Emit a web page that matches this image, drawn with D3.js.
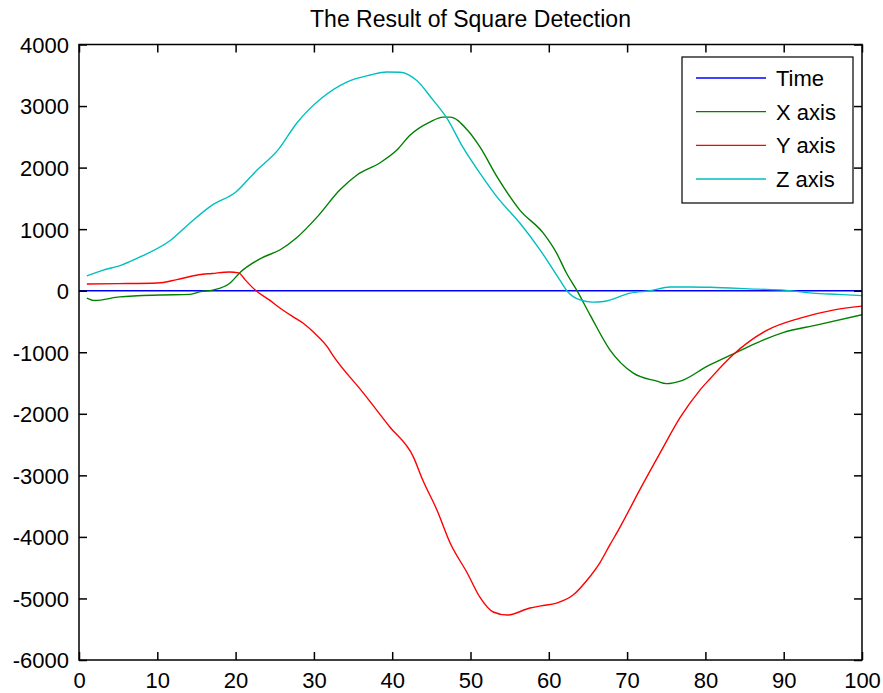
<!DOCTYPE html>
<html>
<head>
<meta charset="utf-8">
<script src="https://cdn.jsdelivr.net/npm/d3@7"></script>
<style>
  html, body { margin: 0; padding: 0; background: #fff; }
  svg { display: block; }
  text { font-family: "Liberation Sans", Arial, sans-serif; fill: #000; }
</style>
</head>
<body>
<svg id="chart" width="883" height="693"></svg>
<script>
// ---- data ----
const seriesNames = ["Time", "X axis", "Y axis", "Z axis"];
const seriesColors = ["#0000ff", "#008000", "#ff0000", "#00bfbf"];

const timeSeries = [[0, 0], [100, 0]];

const xAxisSeries = [
  [1, -120], [2, -160], [5.2, -100], [10.3, -70], [14.2, -60], [15.5, -15], [17.1, 10],
  [19.3, 125], [20.6, 300], [23.3, 530], [25.7, 665], [27.8, 860], [30.4, 1195],
  [33.3, 1635], [35.5, 1880], [38.4, 2075], [40.6, 2285], [42.3, 2530], [44.8, 2740],
  [46.5, 2820], [47.4, 2820], [49.6, 2610], [51.2, 2335], [53.4, 1850], [56.3, 1310],
  [59.3, 935], [61, 610], [62.2, 300], [63.6, 0], [65.3, -400], [67.8, -960],
  [70.8, -1340], [73.8, -1470], [75, -1510], [77, -1460], [80.2, -1230], [83.5, -1030],
  [86.5, -850], [89.9, -680], [94.3, -555], [100, -390]
];

const yAxisSeries = [
  [1, 110], [5, 115], [10, 125], [12.5, 180], [15.3, 260], [17, 280], [19.2, 305],
  [20.4, 290], [21.2, 180], [22.5, 10], [24.3, -150], [25.7, -285], [27.3, -420],
  [28.6, -525], [30, -680], [31.7, -910], [32.4, -1045], [36.3, -1660], [39.7, -2215],
  [42.7, -2700], [43.9, -3075], [45.7, -3560], [47.4, -4100], [49.6, -4590],
  [51.2, -4980], [52.9, -5220], [54.7, -5270], [57.6, -5155], [59, -5120], [61, -5075],
  [63.1, -4945], [64.9, -4700], [66.5, -4425], [67.8, -4130], [69.1, -3840],
  [71.6, -3240], [74.2, -2640], [76.8, -2055], [79.3, -1615], [80.6, -1430],
  [83.5, -1045], [87.9, -640], [92.1, -445], [96.3, -315], [100, -250]
];

const zAxisSeries = [
  [1, 240], [3, 330], [5.5, 420], [8, 560], [11.7, 820], [14, 1080], [17, 1390],
  [20, 1600], [22.5, 1930], [25.5, 2300], [27.8, 2720], [31, 3130], [34.2, 3390],
  [37.2, 3505], [39.3, 3553], [41, 3550], [43.1, 3420], [45.2, 3100], [47, 2800],
  [49, 2335], [51.2, 1910], [53.4, 1520], [56.3, 1100], [58.9, 660], [61.4, 175],
  [62.3, 0], [64, -150], [65.6, -185], [67, -175], [70.4, -40], [72.9, 0], [75.5, 60],
  [78, 60], [80.6, 55], [86.6, 25], [90, 10], [93.7, -40], [97, -60], [100, -80]
];

const xTicks = [0, 10, 20, 30, 40, 50, 60, 70, 80, 90, 100];
const yTicks = [-6000, -5000, -4000, -3000, -2000, -1000, 0, 1000, 2000, 3000, 4000];
const titleText = "The Result of Square Detection";

// ---- layout ----
const svg = d3.select("#chart");
const L = 79, R = 862, T = 44.5, B = 660;

const x = d3.scaleLinear().domain([0, 100]).range([L, R]);
const y = d3.scaleLinear().domain([-6000, 4000]).range([B, T]);
const fmt = d => String(d);

svg.append("rect").attr("width", 883).attr("height", 693).attr("fill", "#fff");

// series
const line = d3.line().x(d => x(d[0])).y(d => y(d[1])).curve(d3.curveMonotoneX);
const allSeries = [timeSeries, xAxisSeries, yAxisSeries, zAxisSeries];
const plot = svg.append("g");
plot.append("clipPath").attr("id", "clip").append("rect")
  .attr("x", L).attr("y", T).attr("width", R - L).attr("height", B - T);
const lines = plot.append("g").attr("clip-path", "url(#clip)");
allSeries.forEach((s, i) => {
  lines.append("path")
    .datum(s)
    .attr("d", line)
    .attr("fill", "none")
    .attr("stroke", seriesColors[i])
    .attr("stroke-width", 1.4);
});

// axes (ticks inside, box on all sides)
const fs = "22px";
const gB = svg.append("g").attr("transform", `translate(0,${B})`)
  .call(d3.axisBottom(x).tickValues(xTicks).tickSize(-8).tickFormat(fmt));
const gT = svg.append("g").attr("transform", `translate(0,${T})`)
  .call(d3.axisTop(x).tickValues(xTicks).tickSize(-8).tickFormat(""));
const gL = svg.append("g").attr("transform", `translate(${L},0)`)
  .call(d3.axisLeft(y).tickValues(yTicks).tickSize(-8).tickPadding(10).tickFormat(fmt));
const gR = svg.append("g").attr("transform", `translate(${R},0)`)
  .call(d3.axisRight(y).tickValues(yTicks).tickSize(-8).tickFormat(""));

[gB, gT, gL, gR].forEach(g => {
  g.select(".domain").remove();
  g.selectAll(".tick line").attr("stroke", "#000").attr("stroke-width", 1.5);
  g.selectAll("text").attr("font-size", fs).attr("font-family", "Liberation Sans, Arial, sans-serif").attr("fill", "#000");
});
gB.selectAll("text").attr("dy", null).attr("y", 28);
gL.selectAll("text").attr("dy", "0.36em");

// frame
svg.append("rect")
  .attr("x", L).attr("y", T).attr("width", R - L).attr("height", B - T)
  .attr("fill", "none").attr("stroke", "#000").attr("stroke-width", 1.5);

// title
svg.append("text")
  .attr("x", (L + R) / 2).attr("y", 27)
  .attr("text-anchor", "middle")
  .attr("font-size", "23px")
  .text(titleText);

// legend
const lg = svg.append("g");
lg.append("rect")
  .attr("x", 682).attr("y", 57).attr("width", 171).attr("height", 146)
  .attr("fill", "#fff").attr("stroke", "#000").attr("stroke-width", 1.2);
const rowY = d3.scalePoint().domain(seriesNames).range([78, 179]);
seriesNames.forEach((name, i) => {
  const yy = rowY(name);
  lg.append("line")
    .attr("x1", 696).attr("x2", 766).attr("y1", yy).attr("y2", yy)
    .attr("stroke", seriesColors[i]).attr("stroke-width", 1.4);
  lg.append("text")
    .attr("x", 776).attr("y", yy + 8)
    .attr("font-size", fs)
    .text(name);
});
</script>
</body>
</html>
